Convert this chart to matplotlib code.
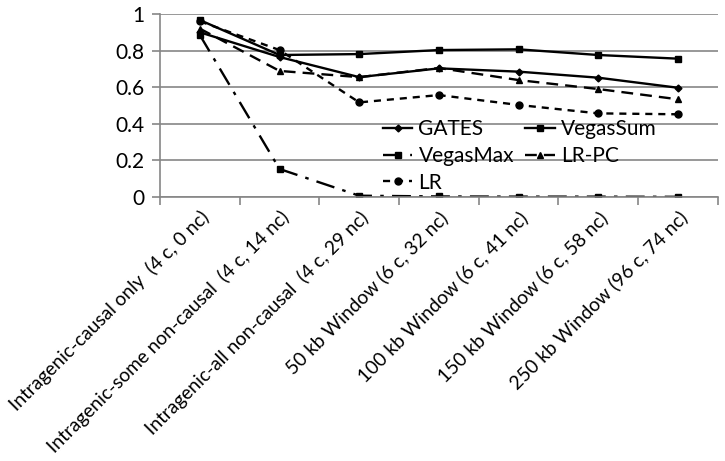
import matplotlib
matplotlib.use("Agg")
import matplotlib.pyplot as plt
from matplotlib.ticker import FixedLocator

plt.rcParams['font.family'] = ['Lato', 'DejaVu Sans']

categories = [
    "Intragenic-causal only  (4 c, 0 nc)",
    "Intragenic-some non-causal  (4 c, 14 nc)",
    "Intragenic-all non-causal  (4 c, 29 nc)",
    "50 kb Window (6 c, 32 nc)",
    "100 kb Window (6 c, 41 nc)",
    "150 kb Window (6 c, 58 nc)",
    "250 kb Window (96 c, 74 nc)",
]
gates = [0.90, 0.765, 0.655, 0.703, 0.685, 0.652, 0.597]
vegas_sum = [0.967, 0.776, 0.781, 0.803, 0.807, 0.776, 0.756]
vegas_max = [0.885, 0.153, 0.007, 0.003, 0.002, 0.002, 0.001]
lr_pc = [0.92, 0.689, 0.655, 0.705, 0.639, 0.59, 0.534]
lr = [0.96, 0.803, 0.517, 0.557, 0.503, 0.457, 0.452]

fig = plt.figure(figsize=(7.25, 4.61), dpi=100)
ax = fig.add_axes([0.2207, 0.5727, 0.990 - 0.2207, 0.9696 - 0.5727])

x = list(range(len(categories)))
lw = 1.7
h_g, = ax.plot(x, gates, color='black', lw=lw, marker='D', ms=3.5, label='GATES')
h_vs, = ax.plot(x, vegas_sum, color='black', lw=lw, marker='s', ms=5, label='VegasSum')
h_vm, = ax.plot(x, vegas_max, color='black', lw=lw, marker='s', ms=5,
                dashes=(8, 3.5, 1.5, 3.5), label='VegasMax')
h_lp, = ax.plot(x, lr_pc, color='black', lw=lw, marker='^', ms=5,
                dashes=(5, 3), label='LR-PC')
h_lr, = ax.plot(x, lr, color='black', lw=lw, marker='o', ms=5,
                dashes=(3, 2.5), label='LR')

ax.set_xlim(-0.5, len(categories) - 0.5)
ax.set_ylim(0, 1)
ax.set_yticks([0, 0.2, 0.4, 0.6, 0.8, 1.0])
ax.set_yticklabels(['0', '0.2', '0.4', '0.6', '0.8', '1'], fontsize=15)
ax.yaxis.grid(True, color='#868686', lw=1.2)
ax.set_axisbelow(True)

ax.set_xticks(x)
ax.set_xticklabels(categories, rotation=45, ha='right', rotation_mode='anchor', fontsize=13.75)
ax.tick_params(axis='x', which='major', length=0, pad=8)
ax.xaxis.set_minor_locator(FixedLocator([i - 0.5 for i in range(len(categories) + 1)]))
ax.tick_params(axis='x', which='minor', length=6, color='#868686', width=1.2)
ax.tick_params(axis='y', length=6, color='#868686', width=1.2, pad=5)

for s in ['top', 'right']:
    ax.spines[s].set_visible(False)
for s in ['left', 'bottom']:
    ax.spines[s].set_color('#868686')
    ax.spines[s].set_linewidth(1.2)

leg = ax.legend([h_g, h_vm, h_lr, h_vs, h_lp],
                ['GATES', 'VegasMax', 'LR', 'VegasSum', 'LR-PC'],
                ncol=2, frameon=False, fontsize=15, loc='upper left',
                bbox_to_anchor=(0.385, 0.47), handlelength=1.4, handletextpad=0.3,
                columnspacing=0.55, labelspacing=0.32, borderaxespad=0)

fig.savefig('out.png', dpi=100)
